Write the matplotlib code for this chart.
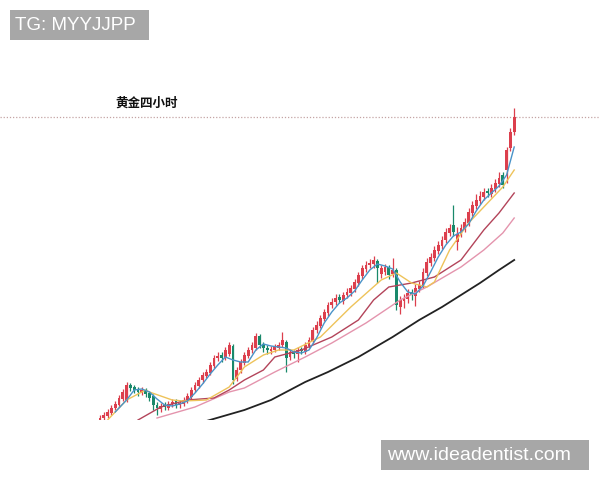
import matplotlib
matplotlib.use("Agg")
import matplotlib.pyplot as plt
from matplotlib.patches import Rectangle

# ---- data ----
opens = [1997, 2002, 2004, 2007, 2012, 2015, 2021, 2020, 2035, 2033,
         2030, 2027, 2030, 2027, 2024, 2015, 2011, 2015, 2012, 2016,
         2019, 2015, 2016, 2019, 2023, 2030, 2034, 2040, 2044, 2047,
         2054, 2062, 2065, 2062, 2066, 2074, 2041, 2050, 2057, 2064,
         2070, 2072, 2084, 2076, 2072, 2069, 2070, 2072, 2075, 2078,
         2063, 2068, 2066, 2071, 2068, 2074, 2079, 2090, 2094, 2101,
         2107, 2115, 2118, 2123, 2119, 2125, 2127, 2131, 2137, 2144,
         2151, 2155, 2156, 2159, 2146, 2148, 2153, 2146, 2150, 2113,
         2119, 2121, 2128, 2124, 2131, 2134, 2147, 2157, 2162, 2169,
         2174, 2180, 2187, 2195, 2178, 2186, 2191, 2197, 2207, 2214,
         2219, 2223, 2229, 2226, 2231, 2236, 2245, 2250, 2272, 2288]
closes = [2002, 2005, 2008, 2012, 2016, 2022, 2028, 2035, 2032, 2030,
          2028, 2030, 2026, 2022, 2015, 2012, 2014, 2013, 2016, 2018,
          2015, 2017, 2020, 2024, 2030, 2035, 2040, 2045, 2048, 2055,
          2062, 2064, 2062, 2070, 2075, 2040, 2050, 2058, 2065, 2070,
          2075, 2084, 2075, 2072, 2070, 2071, 2073, 2075, 2080, 2062,
          2068, 2066, 2070, 2069, 2075, 2080, 2090, 2095, 2102, 2108,
          2115, 2118, 2122, 2120, 2125, 2128, 2132, 2138, 2145, 2152,
          2155, 2157, 2160, 2152, 2152, 2153, 2145, 2150, 2115, 2120,
          2122, 2127, 2125, 2132, 2135, 2148, 2158, 2163, 2170, 2175,
          2180, 2188, 2192, 2188, 2186, 2192, 2198, 2208, 2215, 2220,
          2224, 2228, 2227, 2232, 2237, 2242, 2235, 2270, 2288, 2303]
highs = [2005, 2008, 2011, 2015, 2019, 2025, 2031, 2038, 2037, 2035,
         2033, 2033, 2032, 2029, 2026, 2018, 2017, 2018, 2019, 2021,
         2021, 2020, 2023, 2027, 2033, 2038, 2043, 2048, 2051, 2058,
         2065, 2068, 2068, 2073, 2078, 2076, 2053, 2061, 2068, 2073,
         2078, 2087, 2086, 2078, 2075, 2074, 2076, 2078, 2088, 2080,
         2071, 2070, 2073, 2073, 2078, 2083, 2093, 2099, 2105, 2111,
         2118, 2122, 2126, 2126, 2128, 2132, 2135, 2141, 2148, 2155,
         2159, 2161, 2164, 2161, 2155, 2156, 2155, 2162, 2152, 2124,
         2126, 2131, 2131, 2136, 2139, 2152, 2162, 2167, 2174, 2179,
         2184, 2192, 2196, 2215, 2193, 2196, 2202, 2212, 2219, 2226,
         2229, 2232, 2232, 2236, 2241, 2248, 2248, 2273, 2292, 2312]
lows = [1994, 1999, 2002, 2005, 2010, 2013, 2019, 2018, 2029, 2027,
        2024, 2025, 2023, 2019, 2010, 2005, 2008, 2010, 2010, 2013,
        2012, 2012, 2014, 2017, 2021, 2028, 2032, 2037, 2042, 2045,
        2052, 2059, 2058, 2060, 2064, 2036, 2039, 2047, 2055, 2062,
        2067, 2070, 2072, 2068, 2066, 2066, 2068, 2070, 2073, 2048,
        2060, 2062, 2058, 2066, 2066, 2072, 2077, 2087, 2092, 2099,
        2104, 2112, 2115, 2117, 2116, 2122, 2124, 2128, 2134, 2141,
        2148, 2152, 2152, 2137, 2142, 2145, 2141, 2143, 2110, 2106,
        2112, 2117, 2120, 2114, 2128, 2132, 2144, 2154, 2159, 2166,
        2171, 2177, 2184, 2184, 2170, 2183, 2188, 2194, 2204, 2211,
        2216, 2220, 2223, 2223, 2228, 2233, 2232, 2237, 2269, 2285]

ma5_idx = [4, 7, 9, 11, 13, 15, 17, 19, 21, 23, 25, 27, 29, 31, 33, 35, 37, 39,
           41, 43, 45, 47, 49, 51, 53, 55, 57, 59, 61, 63, 65, 67, 69, 71, 73,
           75, 77, 79, 81, 83, 85, 87, 89, 91, 93, 95, 97, 99, 101, 103, 105,
           107, 109]
ma5_val = [2008, 2020, 2030, 2031, 2028, 2021, 2015, 2014, 2016, 2019, 2027,
           2036, 2046, 2055, 2063, 2060, 2058, 2058, 2070, 2076, 2074, 2073,
           2072, 2068, 2067, 2070, 2082, 2097, 2108, 2117, 2122, 2129, 2140,
           2150, 2156, 2154, 2151, 2138, 2128, 2126, 2134, 2148, 2163, 2175,
           2184, 2188, 2196, 2209, 2220, 2227, 2234, 2245, 2273]

ma10_idx = [2, 7, 12, 13, 16, 19, 22, 28, 34, 38, 43, 47, 51, 58, 66, 74, 78,
            82, 86, 88, 92, 97, 102, 106, 109]
ma10_val = [2000, 2020, 2030, 2028, 2024, 2020, 2019, 2020, 2033, 2053, 2065,
            2070, 2070, 2083, 2113, 2140, 2147, 2137, 2133, 2138, 2170, 2197,
            2217, 2233, 2250]

ma20_idx = [10, 16, 23, 30, 34, 38, 43, 46, 51, 53, 61, 68, 72, 76, 82, 88,
            95, 101, 105, 109]
ma20_val = [2000, 2013, 2020, 2022, 2030, 2040, 2050, 2063, 2068, 2070, 2083,
            2100, 2120, 2133, 2137, 2143, 2160, 2190, 2207, 2227]

ma30_idx = [15, 25, 34, 38, 46, 54, 61, 70, 79, 86, 95, 101, 106, 109]
ma30_val = [2002, 2013, 2028, 2032, 2048, 2063, 2077, 2097, 2120, 2133, 2153,
            2170, 2187, 2202]

ma60_idx = [28, 38, 45, 54, 60, 68, 77, 84, 90, 100, 105, 109]
ma60_val = [1999, 2010, 2020, 2038, 2048, 2063, 2083, 2100, 2113, 2137, 2150,
            2160]

title = "黄金四小时"
last_price = 2303
watermark_top = "TG: MYYJJPP"
watermark_bottom = "www.ideadentist.com"

# ---- styling ----
RED = "#dc3f4d"
GREEN = "#19896b"

plt.rcParams['font.family'] = ['Noto Sans CJK SC', 'DejaVu Sans']

fig = plt.figure(figsize=(6, 4.8), dpi=100)
fig.patch.set_facecolor("white")
ax = fig.add_axes([0, 60 / 480, 1, 420 / 480])
ax.set_axis_off()

n = len(closes)
xs = list(range(n))
colors = [RED if c >= o else GREEN for o, c in zip(opens, closes)]
bottoms = [min(o, c) for o, c in zip(opens, closes)]
heights = [max(abs(c - o), 0.8) for o, c in zip(opens, closes)]

ax.vlines(xs, lows, highs, colors=colors, linewidth=0.9, zorder=2)
ax.bar(xs, heights, bottom=bottoms, width=0.74, color=colors, linewidth=0, zorder=3)

ax.plot(ma60_idx, ma60_val, color="#222222", lw=1.3, zorder=4)
ax.plot(ma30_idx, ma30_val, color="#e494ad", lw=1.0, zorder=4)
ax.plot(ma20_idx, ma20_val, color="#b3445a", lw=1.0, zorder=4)
ax.plot(ma10_idx, ma10_val, color="#eec35a", lw=1.0, zorder=4)
ax.plot(ma5_idx, ma5_val, color="#4a93c8", lw=1.0, zorder=4)

ax.axhline(last_price, color="#c4a4a4", lw=0.9, linestyle=(0, (1, 1.5)), zorder=1)

ax.set_xlim(-100 / 3.8, 500 / 3.8)
ax.set_ylim(2000, 2420)

fig.text(147 / 600, 1 - 103 / 480, title, fontsize=9, fontweight="bold",
         ha="center", va="center", color="#111111")

fig.add_artist(Rectangle((10 / 600, 1 - 40 / 480), 139 / 600, 30 / 480,
                         transform=fig.transFigure, color="#a7a7a7", lw=0))
fig.text(15 / 600, 1 - 25 / 480, watermark_top, fontsize=13.5, color="white",
         ha="left", va="center", family=["Liberation Sans", "DejaVu Sans"])

fig.add_artist(Rectangle((381 / 600, 10 / 480), 208 / 600, 30 / 480,
                         transform=fig.transFigure, color="#a7a7a7", lw=0))
fig.text(387 / 600, 25 / 480, watermark_bottom, fontsize=14, color="white",
         ha="left", va="center", family=["Liberation Sans", "DejaVu Sans"])

fig.savefig("out.png", dpi=100)
